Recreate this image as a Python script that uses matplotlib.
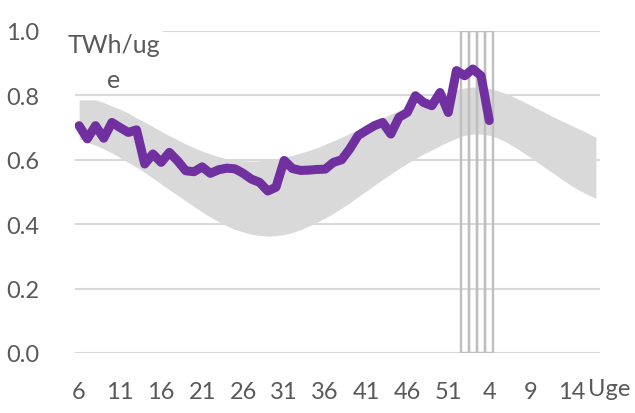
import matplotlib.pyplot as plt

# uger på x-aksen (uge 6 til uge 17 året efter)
weeks = [6, 7, 8, 9, 10, 11, 12, 13, 14, 15, 16, 17, 18, 19, 20, 21, 22, 23, 24, 25,
         26, 27, 28, 29, 30, 31, 32, 33, 34, 35, 36, 37, 38, 39, 40, 41, 42, 43, 44, 45,
         46, 47, 48, 49, 50, 51, 52, 1, 2, 3, 4, 5, 6, 7, 8, 9, 10, 11, 12, 13,
         14, 15, 16, 17]

# normalt interval (grå bånd)
band_high = [0.786, 0.786, 0.786, 0.778, 0.767, 0.757, 0.745, 0.730, 0.717, 0.703,
             0.689, 0.675, 0.662, 0.649, 0.638, 0.627, 0.618, 0.610, 0.603, 0.599,
             0.597, 0.596, 0.597, 0.599, 0.603, 0.608, 0.614, 0.621, 0.629, 0.638,
             0.648, 0.659, 0.670, 0.682, 0.694, 0.706, 0.718, 0.730, 0.742, 0.752,
             0.760, 0.770, 0.781, 0.792, 0.802, 0.811, 0.818, 0.823, 0.826, 0.825,
             0.821, 0.815, 0.806, 0.795, 0.783, 0.770, 0.757, 0.744, 0.731, 0.719,
             0.707, 0.695, 0.683, 0.670]
band_low = [0.665, 0.655, 0.645, 0.634, 0.621, 0.607, 0.592, 0.577, 0.561, 0.543,
            0.525, 0.507, 0.490, 0.472, 0.455, 0.438, 0.422, 0.408, 0.395, 0.384,
            0.376, 0.369, 0.365, 0.363, 0.364, 0.368, 0.374, 0.383, 0.394, 0.406,
            0.419, 0.434, 0.450, 0.467, 0.485, 0.503, 0.521, 0.539, 0.556, 0.573,
            0.589, 0.604, 0.618, 0.631, 0.644, 0.656, 0.667, 0.676, 0.680, 0.680,
            0.676, 0.668, 0.656, 0.641, 0.625, 0.608, 0.590, 0.572, 0.555, 0.537,
            0.520, 0.505, 0.492, 0.480]

# forbrug denne sæson (til og med uge 4)
usage = [0.706, 0.665, 0.706, 0.667, 0.716, 0.700, 0.685, 0.693, 0.587, 0.618,
         0.592, 0.623, 0.597, 0.566, 0.563, 0.578, 0.558, 0.569, 0.574, 0.572,
         0.558, 0.540, 0.530, 0.503, 0.515, 0.598, 0.573, 0.567, 0.568, 0.570,
         0.571, 0.592, 0.600, 0.634, 0.675, 0.691, 0.706, 0.716, 0.680, 0.732,
         0.747, 0.799, 0.778, 0.768, 0.809, 0.747, 0.877, 0.861, 0.882, 0.861,
         0.722]

# markerede uger (lodrette søjler)
marked_weeks = [1, 2, 3, 4]
marked_height = [1.0, 1.0, 1.0, 1.0]

tick_labels = ['6', '11', '16', '21', '26', '31', '36', '41', '46', '51', '4', '9', '14']

plt.rcParams['font.family'] = ['Lato', 'DejaVu Sans']

fig = plt.figure(figsize=(6.35, 4.14), dpi=100)
ax = fig.add_axes([75 / 635, 60 / 414, 525 / 635, 322 / 414])

x = list(range(len(weeks)))
ax.fill_between(x, band_low, band_high, color='#D9D9D9', linewidth=0, zorder=1)

marked_x = [weeks.index(w, 40) for w in marked_weeks]
ax.bar(marked_x, marked_height, width=1.0, fill=False, edgecolor='#BFBFBF',
       linewidth=1.7, zorder=2)

ax.plot(x[:len(usage)], usage, color='#7030A0', linewidth=6.5,
        solid_joinstyle='round', solid_capstyle='round', zorder=3)

ax.set_xlim(-0.5, len(weeks) - 0.5)
ax.set_ylim(0, 1.0)
ax.set_yticks([0.0, 0.2, 0.4, 0.6, 0.8, 1.0])
ax.set_yticklabels(['0.0', '0.2', '0.4', '0.6', '0.8', '1.0'])
ax.set_xticks(x[::5])
ax.set_xticklabels(tick_labels)
ax.tick_params(axis='both', length=0, labelsize=17, labelcolor='#595959')
ax.tick_params(axis='x', pad=20)
ax.tick_params(axis='y', pad=26)
ax.grid(axis='y', color='#D9D9D9', linewidth=1.5, zorder=0)
ax.set_axisbelow(True)
for s in ax.spines.values():
    s.set_visible(False)

fig.text(114 / 635, 1 - 63 / 414, 'TWh/ug\ne', ha='center', va='center',
         fontsize=18, color='#595959', linespacing=1.65,
         bbox=dict(facecolor='white', edgecolor='none', pad=2))
fig.text(609 / 635, 1 - 390 / 414, 'Uge', ha='center', va='center',
         fontsize=17, color='#595959')

fig.savefig('out.png', dpi=100)
